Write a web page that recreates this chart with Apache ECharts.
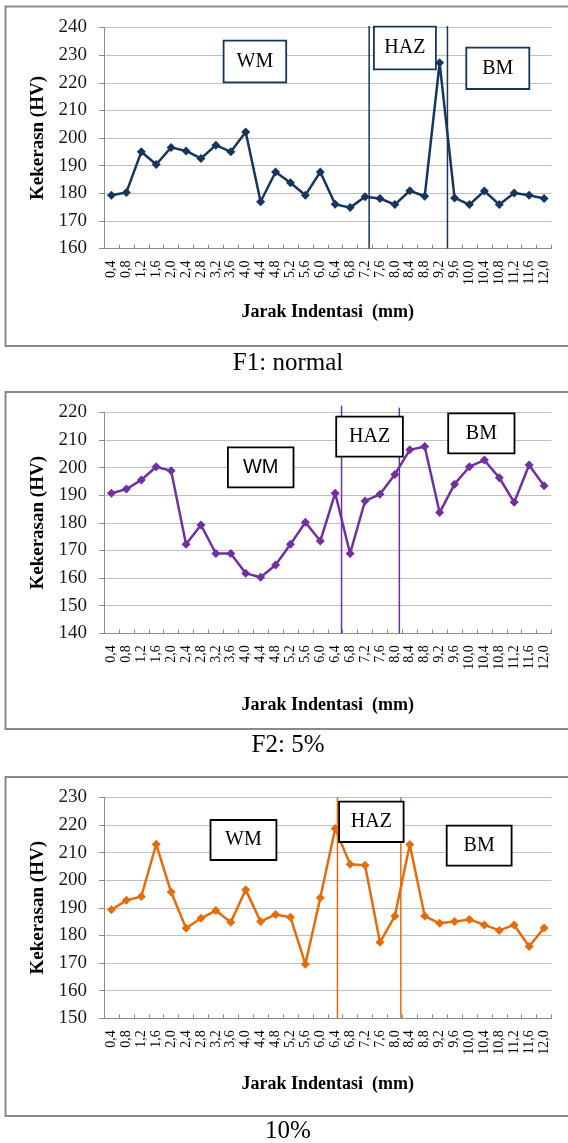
<!DOCTYPE html>
<html>
<head>
<meta charset="utf-8">
<script src="https://cdn.jsdelivr.net/npm/echarts@6/dist/echarts.min.js"></script>
<style>
  html, body { margin: 0; padding: 0; background: #fff; }
  #main { width: 568px; height: 1143px; }
</style>
</head>
<body>
<div id="main"></div>
<script>
// jarak indentasi (mm)
const jarak = ['0,4', '0,8', '1,2', '1,6', '2,0', '2,4', '2,8', '3,2', '3,6', '4,0',
  '4,4', '4,8', '5,2', '5,6', '6,0', '6,4', '6,8', '7,2', '7,6', '8,0',
  '8,4', '8,8', '9,2', '9,6', '10,0', '10,4', '10,8', '11,2', '11,6', '12,0']

// kekerasan (HV) tiap spesimen
const f1Normal = [179.3, 180.3, 195, 190.4, 196.6, 195.3, 192.6, 197.4, 195, 202.2,
  176.9, 187.7, 183.8, 179.3, 187.7, 176, 174.8, 178.7, 178.1, 175.9,
  180.9, 178.9, 227.2, 178.3, 175.9, 180.8, 175.9, 180.1, 179.3, 178.1]
const f2Lima = [190.7, 192.2, 195.5, 200.3, 198.8, 172.2, 179.2, 168.9, 168.9, 161.7,
  160.3, 164.7, 172.2, 180.2, 173.4, 190.7, 168.9, 187.9, 190.3, 197.5,
  206.4, 207.6, 183.7, 194, 200.3, 202.7, 196.3, 187.4, 200.9, 193.4]
const f3Sepuluh = [189.3, 192.7, 194.1, 213, 195.7, 182.6, 186.2, 189, 184.8, 196.5,
  185, 187.6, 186.6, 169.6, 193.6, 218.7, 205.8, 205.4, 177.5, 187,
  212.9, 187, 184.4, 185, 185.8, 183.8, 181.8, 183.8, 176, 182.7]

// batas daerah HAZ (mm)
const batasF1 = [7.31, 9.41]
const batasF2 = [6.57, 8.12]
const batasF3 = [6.46, 8.16]

// rentang sumbu Y
const yMin = [160, 140, 150]
const yMax = [240, 220, 230]

const serif = 'Liberation Serif'
const panels = [
  { data: f1Normal, batas: batasF1, color: '#17365D', top: 27.5, yName: 'Kekerasn (HV)', nameGap: 55, lineTop: [240.5, 240.5] },
  { data: f2Lima, batas: batasF2, color: '#7030A0', top: 412.3, yName: 'Kekerasan (HV)', nameGap: 63, lineTop: [222.4, 221.7] },
  { data: f3Sepuluh, batas: batasF3, color: '#E46C0A', top: 797.3, yName: 'Kekerasan (HV)', nameGap: 57, lineTop: [230, 230] }
]

const chart = echarts.init(document.getElementById('main'))

const grid = []
const xAxis = []
const yAxis = []
const series = []

panels.forEach((p, i) => {
  grid.push({ left: 104, width: 447.5, top: p.top, height: 221, containLabel: false, outerBoundsMode: 'none' })
  // sumbu kategori (label jarak)
  xAxis.push({
    type: 'category',
    gridIndex: i,
    data: jarak,
    boundaryGap: true,
    name: 'Jarak Indentasi  (mm)',
    nameLocation: 'middle',
    nameGap: p.nameGap,
    nameTextStyle: { fontFamily: serif, fontWeight: 'bold', fontSize: 18, color: '#000' },
    axisLine: { lineStyle: { color: '#8c8c8c', width: 1 } },
    axisTick: { show: true, inside: true, length: 4, interval: 0, lineStyle: { color: '#8c8c8c' } },
    axisLabel: { interval: 0, rotate: 90, margin: 12, fontFamily: serif, fontSize: 14, color: '#000' },
    splitLine: { show: false }
  })
  yAxis.push({
    type: 'value',
    gridIndex: i,
    min: yMin[i],
    max: yMax[i],
    interval: 10,
    name: p.yName,
    nameLocation: 'middle',
    nameGap: 52,
    nameRotate: 90,
    nameTextStyle: { fontFamily: serif, fontWeight: 'bold', fontSize: 19, color: '#000' },
    axisLine: { show: true, lineStyle: { color: '#8c8c8c', width: 1 } },
    axisTick: { show: true, length: 5, lineStyle: { color: '#8c8c8c' } },
    axisLabel: { margin: 17, fontFamily: serif, fontSize: 19, color: '#1a1a1a' },
    splitLine: { lineStyle: { color: '#c0c0c0', width: 1 } }
  })
  series.push({
    type: 'line',
    xAxisIndex: i,
    yAxisIndex: i,
    data: p.data,
    symbol: 'diamond',
    symbolSize: 9,
    lineStyle: { color: p.color, width: 2.5 },
    itemStyle: { color: p.color },
    z: 3
  })
})

// sumbu nilai tersembunyi untuk garis batas HAZ
panels.forEach((p, i) => {
  xAxis.push({ type: 'value', gridIndex: i, min: 0.2, max: 12.2, show: false })
  p.batas.forEach((b, j) => {
    series.push({
      type: 'line',
      xAxisIndex: 3 + i,
      yAxisIndex: i,
      data: [[b, yMin[i]], [b, p.lineTop[j]]],
      symbol: 'none',
      clip: false,
      silent: true,
      lineStyle: { color: p.color, width: 1.5 },
      z: 2
    })
  })
})

// kotak label WM / HAZ / BM
function kotak (x, y, w, h, label, stroke, font) {
  return {
    type: 'group',
    children: [
      { type: 'rect', shape: { x: x, y: y, width: w, height: h }, style: { fill: '#fff', stroke: stroke, lineWidth: 1.8 }, z: 10 },
      { type: 'text', x: x + w / 2, y: y + h / 2, style: { text: label, fontFamily: font || serif, fontSize: 20, fill: '#000', align: 'center', verticalAlign: 'middle' }, z: 11 }
    ]
  }
}

function bingkai (y, h) {
  return { type: 'rect', shape: { x: 5.5, y: y, width: 600, height: h }, style: { fill: 'none', stroke: '#8a8a8a', lineWidth: 2 }, z: 0 }
}

function judul (y, text) {
  return { type: 'text', x: 288, y: y, style: { text: text, fontFamily: serif, fontSize: 25, fill: '#000', align: 'center', verticalAlign: 'middle' } }
}

const graphic = [
  bingkai(6.5, 339.5),
  bingkai(392, 337),
  bingkai(777, 339),
  kotak(223.6, 40.7, 62.6, 41.6, 'WM', '#17365D'),
  kotak(373.9, 26.7, 62, 42.6, 'HAZ', '#17365D'),
  kotak(466.3, 47.7, 63, 41.3, 'BM', '#17365D'),
  kotak(227.9, 447.3, 65.6, 40, 'WM', '#000', 'Liberation Sans'),
  kotak(336.2, 416.7, 66.7, 40, 'HAZ', '#000'),
  kotak(448.2, 413.3, 66.3, 40, 'BM', '#000'),
  kotak(210.5, 820, 65.9, 40, 'WM', '#000'),
  kotak(339.1, 801.7, 64.5, 40.3, 'HAZ', '#000'),
  kotak(446.7, 825.7, 64.9, 40, 'BM', '#000'),
  judul(363.5, 'F1: normal'),
  judul(745, 'F2: 5%'),
  judul(1131, '10%')
]

chart.setOption({
  animation: false,
  grid: grid,
  xAxis: xAxis,
  yAxis: yAxis,
  series: series,
  graphic: graphic
})
</script>
</body>
</html>
